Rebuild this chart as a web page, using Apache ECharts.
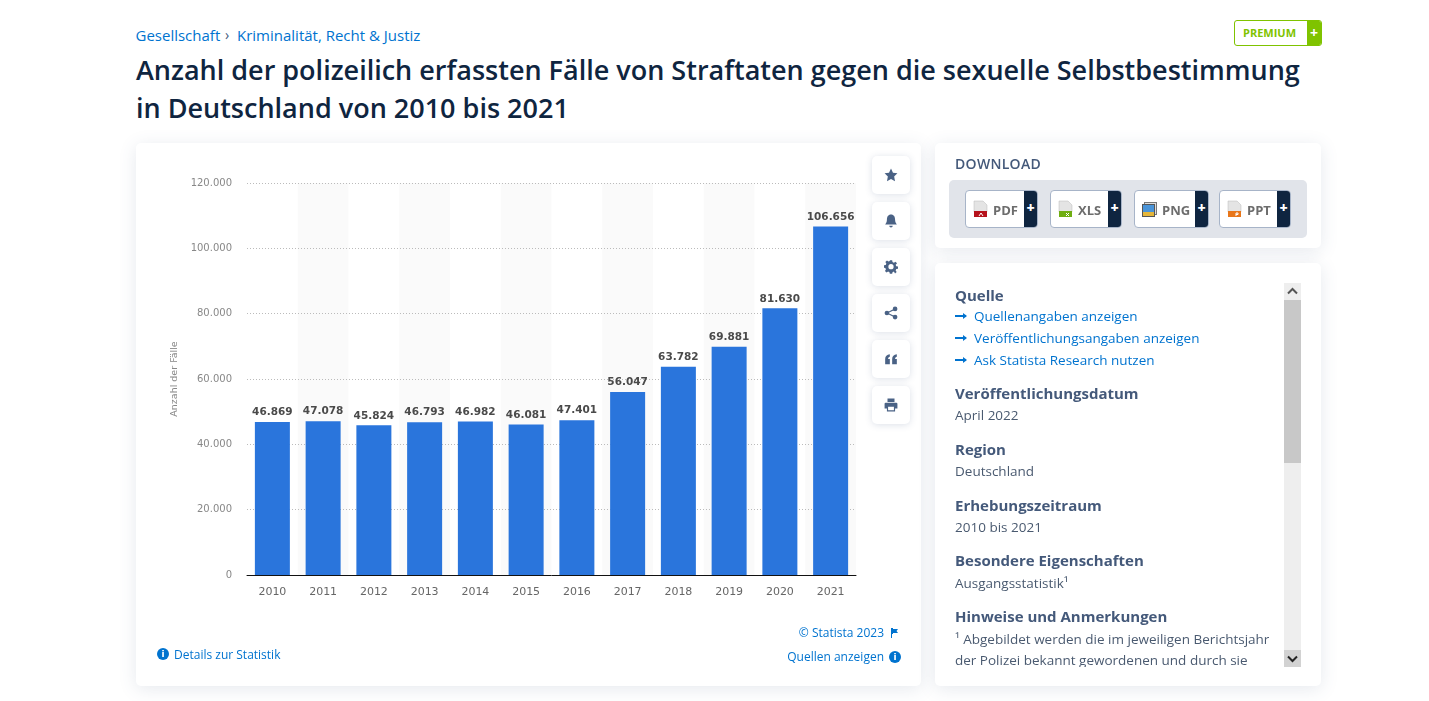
<!DOCTYPE html>
<html lang="de"><head><meta charset="utf-8"><title>Statista</title>
<script src="https://cdn.jsdelivr.net/npm/echarts@6/dist/echarts.min.js"></script>
<style>
html,body{margin:0;padding:0;width:1429px;height:701px;overflow:hidden;background:#fff;font-family:"Open Sans",sans-serif;}
.abs,.card,.tool,.dl,.inner{position:absolute}
a,.lnk{color:#0073cf;text-decoration:none}
.card{background:#fff;border-radius:5px;box-shadow:0 3px 18px rgba(60,85,125,.13)}
#chart{position:absolute;left:136px;top:143px;width:785px;height:543px}
.tool{left:872px;width:38px;height:38px;background:#fff;border-radius:5px;box-shadow:0 1px 7px rgba(60,85,125,.18);display:flex;align-items:center;justify-content:center}
.tool svg{width:14px;height:14px;fill:#4a6285}
.dl{top:190px;height:36px;background:#fff;border:1px solid #a7b4c8;border-radius:4px;box-sizing:content-box;overflow:hidden;font-size:13px;font-weight:700;color:#6d6d6d;line-height:38px}
.dl b{position:absolute;right:0;top:0;width:13px;height:36px;background:#0f2540;color:#fff;font-size:14px;text-align:center;line-height:34px}
.dl span{position:absolute;left:27px;top:0}
.dl svg{position:absolute;left:7px;top:9px;width:15px;height:18px}
.h{position:absolute;left:955px;font-size:15px;font-weight:700;color:#44597a;white-space:nowrap;line-height:20px}
.t{position:absolute;left:955px;font-size:13.5px;color:#4a5a70;white-space:nowrap;line-height:20px}
.l{position:absolute;left:974px;font-size:13.5px;color:#0073cf;white-space:nowrap;line-height:20px}
.arr{position:absolute;left:955px;width:11px;height:2px;background:#0073cf}
.arr:after{content:"";position:absolute;right:-1px;top:-2px;border-left:4px solid #0073cf;border-top:3px solid transparent;border-bottom:3px solid transparent}
</style></head><body>
<div class="abs lnk" style="left:135.500px;top:25px;font-size:15px;line-height:20px;white-space:nowrap">Gesellschaft</div>
<div class="abs" style="left:225px;top:25px;font-size:14px;line-height:20px;color:#44597a">›</div>
<div class="abs lnk" style="left:237px;top:25px;font-size:15px;line-height:20px;white-space:nowrap">Kriminalität, Recht &amp; Justiz</div>
<div class="abs" style="left:1234px;top:20px;width:86px;height:24px;border:1px solid #7fc300;border-radius:3px;background:#fff;overflow:hidden">
 <div style="position:absolute;left:8px;top:0;line-height:24px;font-size:11px;font-weight:700;color:#7fc300">PREMIUM</div>
 <div style="position:absolute;right:0;top:0;width:14px;height:24px;background:#7fc300;color:#fff;text-align:center;font-weight:700;font-size:14px;line-height:24px">+</div>
</div>
<div class="abs" style="left:136px;top:51px;width:1186px;font-size:27px;font-weight:600;line-height:38px;color:#0f2540;white-space:nowrap">Anzahl der polizeilich erfassten Fälle von Straftaten gegen die sexuelle Selbstbestimmung<br>in Deutschland von 2010 bis 2021</div>

<div class="card" style="left:136px;top:143px;width:785px;height:543px"></div>
<div id="chart"></div>

<div class="tool" style="top:156px"><svg viewBox="0 0 24 24"><path d="M12 1l3.400 7.200 7.600 1-5.600 5.400 1.500 7.900L12 18.700l-6.900 3.800 1.500-7.900L1 9.200l7.600-1z"/></svg></div>
<div class="tool" style="top:202px"><svg viewBox="0 0 24 24"><path d="M12 1c-5 0-7 4-7 9 0 4-1.500 6-3 8h20c-1.500-2-3-4-3-8 0-5-2-9-7-9zM9 20a3 3 0 0 0 6 0z"/></svg></div>
<div class="tool" style="top:248px"><svg viewBox="0 0 24 24"><path fill-rule="evenodd" d="M10 1h4l.6 3 2.400 1 2.600-1.700 2.800 2.800L20 8.700l1 2.400 3 .6v4l-3 .3-1 2.400 1.700 2.600-2.800 2.800L17 20.300l-2.400 1L14 24h-4l-.6-2.700-2.400-1L4.400 22l-2.800-2.800L3.300 16.600l-1-2.400L0 13.700v-4l3-.6 1-2.400L2.300 4.100l2.800-2.800L7.700 3l2.300-1zM12 7.500a4.500 4.500 0 1 0 0 9 4.500 4.500 0 0 0 0-9z" transform="translate(0 -.5)"/></svg></div>
<div class="tool" style="top:294px"><svg viewBox="0 0 24 24"><circle cx="19" cy="5" r="4"/><circle cx="5" cy="12" r="4"/><circle cx="19" cy="19" r="4"/><path d="M5 11l14-7v2.500L7 12l12 5.500V20L5 13z"/></svg></div>
<div class="tool" style="top:340px"><svg viewBox="0 0 24 24"><path d="M2 21V12c0-5 3-7 8-8v4c-2 .4-3 1.500-3 4h3v9zM14 21V12c0-5 3-7 8-8v4c-2 .4-3 1.500-3 4h3v9z"/></svg></div>
<div class="tool" style="top:386px"><svg viewBox="0 0 24 24"><path fill-rule="evenodd" d="M6 1h12v6H6zM3 8h18a2 2 0 0 1 2 2v8h-4v5H5v-5H1v-8a2 2 0 0 1 2-2zM7 15v6h10v-6z"/></svg></div>

<div class="abs" style="left:157px;top:648px;width:12px;height:12px;border-radius:50%;background:#0073cf;color:#fff;font:700 9px/12px 'DejaVu Sans';text-align:center">i</div>
<div class="abs lnk" style="left:174px;top:646px;font-size:12px;line-height:17px;white-space:nowrap">Details zur Statistik</div>
<div class="abs lnk" style="right:545px;top:624px;font-size:12px;line-height:17px;white-space:nowrap">© Statista 2023</div>
<svg class="abs" style="left:890px;top:628px;width:9px;height:10px" viewBox="0 0 9 10"><path fill="#0073cf" d="M1 0h2v1h5L6.500 3 8 5H3v1H2v4H1z"/></svg>
<div class="abs lnk" style="right:545px;top:648px;font-size:12px;line-height:17px;white-space:nowrap">Quellen anzeigen</div>
<div class="abs" style="left:889px;top:651px;width:12px;height:12px;border-radius:50%;background:#0073cf;color:#fff;font:700 9px/12px 'DejaVu Sans';text-align:center">i</div>

<div class="card" style="left:935px;top:143px;width:386px;height:105px"></div>
<div class="h" style="top:154px;font-size:14px;font-weight:600;letter-spacing:.3px">DOWNLOAD</div>
<div class="abs" style="left:949px;top:180px;width:358px;height:58px;background:#e1e4ea;border-radius:5px"></div>
<div class="dl" style="left:965px;width:71px"><svg viewBox="0 0 15 18"><path fill="#e4e4e4" stroke="#bbb" stroke-width=".5" d="M1 1h9l4 4v7H1z"/><path fill="#b5121b" d="M1 11h13v6H1z"/><path stroke="#fff" fill="none" d="M6 16l2-3 2 3"/></svg><span>PDF</span><b>+</b></div>
<div class="dl" style="left:1050px;width:70px"><svg viewBox="0 0 15 18"><path fill="#e4e4e4" stroke="#bbb" stroke-width=".5" d="M1 1h9l4 4v7H1z"/><path fill="#6fae12" d="M1 11h13v6H1z"/><path stroke="#fff" fill="none" d="M8 13l3 3m0-3l-3 3"/></svg><span>XLS</span><b>+</b></div>
<div class="dl" style="left:1134px;width:73px"><svg viewBox="0 0 15 18"><rect x="2.500" y="2.500" width="12" height="12" fill="#ddd" stroke="#777"/><rect x="0.500" y="4.500" width="12" height="12" fill="#4a94d8" stroke="#555"/><rect x="1" y="12" width="11" height="4" fill="#e5b63a"/></svg><span>PNG</span><b>+</b></div>
<div class="dl" style="left:1219px;width:70px"><svg viewBox="0 0 15 18"><path fill="#e4e4e4" stroke="#bbb" stroke-width=".5" d="M1 1h9l4 4v7H1z"/><path fill="#e8761a" d="M1 11h13v6H1z"/><path stroke="#fff" fill="none" d="M9 16v-3h2v1.500H9"/></svg><span>PPT</span><b>+</b></div>

<div class="card" style="left:935px;top:263px;width:386px;height:423px"></div>
<div class="h" style="top:285px">Quelle</div>
<div class="arr" style="top:315px"></div><div class="l" style="top:306px">Quellenangaben anzeigen</div>
<div class="arr" style="top:337px"></div><div class="l" style="top:328px">Veröffentlichungsangaben anzeigen</div>
<div class="arr" style="top:359px"></div><div class="l" style="top:350px">Ask Statista Research nutzen</div>
<div class="h" style="top:383px">Veröffentlichungsdatum</div>
<div class="t" style="top:405px">April 2022</div>
<div class="h" style="top:439px">Region</div>
<div class="t" style="top:461px">Deutschland</div>
<div class="h" style="top:495px">Erhebungszeitraum</div>
<div class="t" style="top:517px">2010 bis 2021</div>
<div class="h" style="top:550px">Besondere Eigenschaften</div>
<div class="t" style="top:573px">Ausgangsstatistik¹</div>
<div class="h" style="top:606px">Hinweise und Anmerkungen</div>
<div class="t" style="top:629px">¹ Abgebildet werden die im jeweiligen Berichtsjahr</div>
<div class="t" style="top:650px;height:17px;overflow:hidden">der Polizei bekannt gewordenen und durch sie</div>

<div class="abs" style="left:1284px;top:283px;width:17px;height:384px;background:#eee"></div>
<div class="abs" style="left:1284px;top:300px;width:17px;height:163px;background:#c8c8c8"></div>
<svg class="abs" style="left:1284px;top:283px;width:17px;height:17px" viewBox="0 0 17 17"><path d="M4 10.500L8.500 6l4.500 4.500" fill="none" stroke="#555" stroke-width="2"/></svg>
<svg class="abs" style="left:1284px;top:650px;width:17px;height:17px" viewBox="0 0 17 17"><rect width="17" height="17" fill="#d2d2d2"/><path d="M4 6.500L8.500 11 13 6.500" fill="none" stroke="#222" stroke-width="2"/></svg>

<script>
const categories = ['2010','2011','2012','2013','2014','2015','2016','2017','2018','2019','2020','2021'];
const values = [46869,47078,45824,46793,46982,46081,47401,56047,63782,69881,81630,106656];
const axisTicks = [0,20000,40000,60000,80000,100000,120000];
const axisName = 'Anzahl der Fälle';
const fmt = v => String(v).replace(/\B(?=(\d{3})+$)/g,'.');
const chart = echarts.init(document.getElementById('chart'), null, {width:785,height:543});
chart.setOption({
  animation:false,
  backgroundColor:'transparent',
  grid:{left:111,right:65,top:40,bottom:111,containLabel:false},
  xAxis:{type:'category',data:categories,z:0,
    axisLine:{lineStyle:{color:'#111',width:1}},axisTick:{show:false},
    axisLabel:{color:'#666',fontFamily:'DejaVu Sans',fontSize:11,margin:12},
    splitArea:{show:true,areaStyle:{color:['#ffffff','#fafafa']}},
    splitLine:{show:false}},
  yAxis:{type:'value',z:1,min:axisTicks[0],max:axisTicks[axisTicks.length-1],interval:axisTicks[1],
    name:axisName,nameLocation:'middle',nameGap:60,nameRotate:90,
    nameTextStyle:{color:'#888',fontFamily:'DejaVu Sans',fontSize:9.5},
    axisLine:{show:false},axisTick:{show:false},
    axisLabel:{color:'#888',fontFamily:'DejaVu Sans',fontSize:10,margin:15,padding:[5,0,0,0],formatter:fmt},
    splitLine:{showMinLine:false,lineStyle:{color:'#bbbbbb',type:[1,2],width:1}}},
  series:[{type:'bar',data:values,barWidth:35,itemStyle:{color:'#2a75dc'},
    label:{show:true,position:'top',distance:4,color:'#4a4a4a',fontFamily:'DejaVu Sans',fontWeight:'bold',fontSize:10.5,formatter:p=>fmt(p.value)}}]
});
</script>
</body></html>
